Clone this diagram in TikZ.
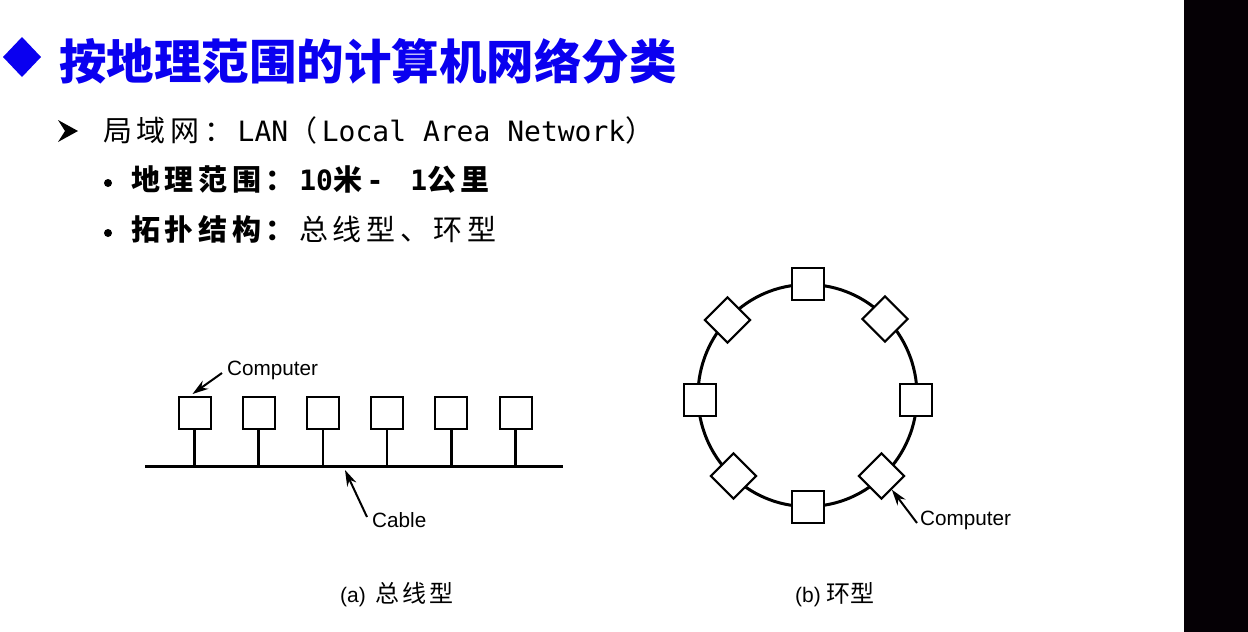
\documentclass[tikz,border=0pt]{standalone}
\usepackage{fontspec}
\setmainfont{Liberation Sans}
\newfontfamily\cjk{Noto Sans CJK SC}
\newfontfamily\cjksp[LetterSpace=16]{Noto Sans CJK SC}
\newfontfamily\mono{DejaVu Sans Mono}
\usetikzlibrary{positioning, arrows.meta}
\definecolor{titleblue}{RGB}{10,0,240}
\definecolor{stripblack}{RGB}{5,0,5}

\newcommand{\lnfont}{\fontsize{29}{34}\selectfont}
\newcommand{\mn}[1]{{\mono\fontsize{28}{34}\selectfont #1}}
\newcommand{\cs}[1]{{\cjksp #1}\hspace{4.6pt}}

\begin{document}
\begin{tikzpicture}[x=1pt,y=-1pt,
  pc/.style={draw,line width=2pt,fill=white,minimum size=32pt,inner sep=0pt},
  pcd/.style={pc,rotate=45},
  lbl/.style={inner sep=0pt,anchor=west,font=\fontsize{20.7}{24}\selectfont},
  txt/.style={inner sep=0pt,anchor=base west},
  dot/.style={circle,fill,inner sep=0pt,minimum size=8pt},
  ptr/.style={-{Stealth[length=16pt,width=10pt]},line width=2pt},
  node distance=64.2pt,on grid]
\useasboundingbox (0,0) rectangle (1248,632);
\fill[white] (0,0) rectangle (1184,632);
\fill[stripblack] (1184,0) rectangle (1248,632);

% heading and list
\fill[titleblue] (3,57) -- (22,37) -- (41,57) -- (22,77) -- cycle;
\node[txt,text=titleblue,font=\cjk\bfseries\fontsize{47.5}{56}\selectfont] (title) at (59,79) {按地理范围的计算机网络分类};
\fill (58,120) -- (78,131) -- (58,142) -- (65,131) -- cycle;
\node[txt,font=\lnfont] (lan) at (103,141)
  {\cs{局域网：}\mn{LAN}\cs{（}\mn{Local Area Network}\cs{）}};
\node[dot] (b1) at (108,183) {};
\node[txt,font=\lnfont\bfseries] (range) at (131,190)
  {\cs{地理范围：}\mn{\bfseries 10}\cs{米}\mn{\bfseries -\hspace{10pt} 1}\cs{公里}};
\node[dot] (b2) at (108,233) {};
\node[txt,font=\lnfont] (topo) at (131,240)
  {\cs{\bfseries 拓扑结构：}\cs{总线型、环型}};

% (a) bus
\coordinate (busl) at (145,466);
\coordinate (busr) at (563,466);
\draw[line width=3pt] (busl) -- (busr);
\node[pc] (pc1) at (194.5,413) {};
\node[pc] (pc2) [right=of pc1] {};
\node[pc] (pc3) [right=of pc2] {};
\node[pc] (pc4) [right=of pc3] {};
\node[pc] (pc5) [right=of pc4] {};
\node[pc] (pc6) [right=of pc5] {};
\draw[line width=2.5pt]
  (pc1.south) -- (pc1.south |- busl)
  (pc2.south) -- (pc2.south |- busl)
  (pc3.south) -- (pc3.south |- busl)
  (pc4.south) -- (pc4.south |- busl)
  (pc5.south) -- (pc5.south |- busl)
  (pc6.south) -- (pc6.south |- busl);
\node[lbl] (buspc) at (227,370) {Computer};
\draw[ptr] ([shift={(-5pt,-3pt)}]buspc.west) -- ([shift={(-2pt,2pt)}]pc1.north);
\node[lbl] (cable) at (372,520) {Cable};
\coordinate (cabtip) at (345,470);
\draw[ptr] ([shift={(-5pt,3pt)}]cable.west) -- (cabtip);

% (b) ring
\coordinate (ring) at (807.5,395.5);
\draw[line width=3pt] (ring) ellipse [x radius=109.5, y radius=111];
\node[pc] (rt) at (808,283.5) {};
\node[pc] (rb) at (808,507) {};
\node[pc] (rl) at (699.5,399.5) {};
\node[pc] (rr) at (916,399.5) {};
\node[pcd] (rul) at (727.5,320) {};
\node[pcd] (rur) at (885,319) {};
\node[pcd] (rll) at (733.5,476) {};
\node[pcd] (rlr) at (881.5,476) {};
\node[lbl] (ringpc) at (920,520) {Computer};
\draw[ptr] ([shift={(-3pt,-3pt)}]ringpc.west) -- (rlr);

% captions
\node[txt,font=\fontsize{21}{25}\selectfont] (capa) at (340,602) {(a)\hspace{10pt}{\cjk\fontsize{24}{27}\selectfont 总\hspace{3pt}线\hspace{3pt}型}};
\node[txt,font=\fontsize{21}{25}\selectfont] (capb) at (795,602) {(b)\hspace{6pt}{\cjk\fontsize{24}{27}\selectfont 环型}};
\end{tikzpicture}
\end{document}
